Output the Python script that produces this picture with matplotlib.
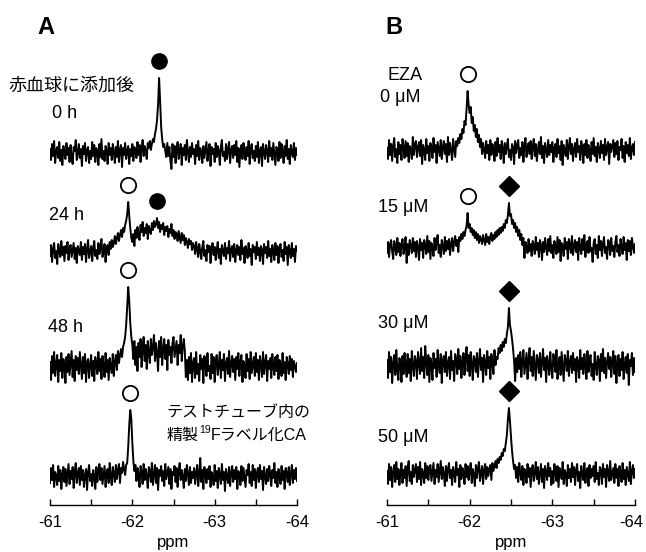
import numpy as np
import matplotlib
matplotlib.use('Agg')
import matplotlib.pyplot as plt
from matplotlib.ticker import MultipleLocator
from matplotlib.transforms import ScaledTranslation

plt.rcParams['font.family'] = ['Liberation Sans', 'Noto Sans CJK JP']

# chemical shift grid: -61 .. -64 ppm, 0.0125 ppm step (241 points)
ppm = np.linspace(-61.0, -64.0, 241)

# panel A: 19F spectra after adding to red blood cells (intensity)
a_0h = [4, -7, 9, -3, 12, -10, 2, 6, -5, 11, -8, 3, -12, 7, 1, -6, 10, -2, 5, -9,
        8, -4, -11, 6, 2, 13, -7, 0, 9, -5, 4, -13, 7, -1, 10, -8, 3, 6, -10, 2,
        -6, 11, -3, 8, -9, 5, 1, -12, 9, -4, 14, -6, 2, -8, 7, 3, -11, 10, -2, 5,
        -7, 9, 1, -10, 6, -4, 12, -9, 3, 8, -14, 5, -2, 10, -6, 2, 7, -11, 4, -3,
        9, -8, 6, 1, -5, 11, -2, 8, -9, 4, 13, -3, 7, 2, -6, 10, 5, 12, 3, 9,
        14, 11, 19, 24, 33, 48, 75, 52, 26, 14, 6, 9, 2, -4, 10, -3, 6, -8, -16, 9,
        -4, 7, -10, 3, 11, -6, 2, 9, -12, 5, -2, 8, -7, 13, 1, -9, 6, -4, 10, -1,
        4, -11, 8, -3, 12, -7, 5, 1, -10, 7, -5, 3, 11, -8, 2, 9, -13, 6, -1, 4,
        -9, 10, -4, 7, 2, -12, 6, 13, -3, 1, -8, 9, -6, 4, 11, -10, 3, 7, -5, 8,
        -2, 12, -9, 5, -14, 3, 8, -6, 10, 1, -7, 6, -3, 12, -11, 4, 9, -5, 2, -8,
        7, -4, 11, -10, 3, 6, -13, 9, 1, -6, 8, 2, -9, 12, -3, 5, -7, 10, -1, -12,
        6, 3, -8, 11, -5, 9, 2, -10, 7, -3, 13, -6, 4, -11, 8, 1, -4, 10, -7, 5,
        -2]
a_24h = [-4, 7, -10, 3, 9, -6, 1, -12, 8, 2, -5, 11, -3, 5, -9, 6, -1, 10, -8, 3,
         7, -5, 2, 9, -7, 4, -11, 6, 1, -3, 10, -8, 5, -2, 8, -10, 3, 12, -6, 0,
         6, -9, 4, 11, -4, 2, -7, 9, -2, 5, 13, -5, 1, 8, -10, 4, 7, -3, 10, 3,
         12, 5, 9, 16, 8, 14, 19, 11, 17, 22, 15, 24, 20, 27, 31, 38, 50, 36, 24, 14,
         10, 18, 6, 22, 14, 25, 17, 12, 27, 20, 30, 16, 24, 19, 28, 13, 26, 21, 18, 29,
         22, 31, 25, 28, 34, 24, 30, 20, 27, 23, 29, 17, 25, 21, 26, 15, 23, 19, 28, 16,
         22, 13, 20, 18, 11, 21, 15, 9, 19, 12, 17, 7, 14, 10, 4, 13, 8, 11, 2, 9,
         6, -2, 10, 3, -5, 8, 1, -7, 5, 11, -4, 2, -9, 7, 0, 6, -11, 4, 9, -3,
         5, -8, 2, 10, -6, 3, -12, 7, 1, -4, 9, -7, 4, -1, 11, -9, 3, 6, -5, 8,
         -10, 2, 7, -3, 5, -8, 12, -2, 4, -11, 6, 1, -6, 9, -4, 3, -13, 7, 0, 5,
         -7, 10, -3, 4, -9, 6, 2, -12, 8, -1, 5, -6, 11, -4, 3, -10, 7, 1, -8, 9,
         -3, 6, -11, 4, 8, -5, 2, -9, 10, -2, 5, -13, 7, 1, -6, 9, -4, 3, -10, 6,
         1]
a_48h = [5, -13, 11, -6, 15, -9, 3, 12, -15, 7, -4, 14, -11, 8, 2, -16, 10, -5, 13, -8,
         4, 16, -10, 7, -14, 11, -3, 9, -7, 15, 1, -12, 10, -6, 13, -15, 5, 8, -11, 2,
         12, -9, 6, -14, 10, 3, -7, 15, -4, 8, -12, 11, 2, -10, 14, -5, 7, -13, 9, 1,
         -6, 13, -9, 5, 12, -3, 16, 4, 12, 18, 10, 20, 24, 30, 42, 60, 80, 66, 44, 30,
         22, 8, 26, 2, 20, -4, 24, 10, 28, 0, 18, 30, 6, 22, -2, 26, 14, 4, 28, 12,
         20, 32, 6, 24, 14, -4, 26, 10, 30, 2, 18, 28, 8, 22, -3, 27, 12, 20, 4, 24,
         30, 10, 18, 26, 2, 22, 14, 32, 6, 20, 28, 16, -10, 7, -13, 10, -6, 14, -15, 4,
         9, -11, 15, -7, 3, -14, 12, -2, 8, -16, 11, 5, -9, 14, -4, 1, -12, 13, -6, 10,
         -15, 6, 12, -8, 2, 15, -11, 7, -3, 13, -14, 4, 9, -7, 16, -10, 3, 11, -5, 8,
         -13, 10, -2, 14, -9, 5, 12, -15, 6, 1, -11, 13, -4, 8, -12, 15, -6, 2, 10, -9,
         14, -5, 7, -13, 11, 3, -10, 15, -7, 4, 12, -14, 6, -2, 9, -11, 13, 0, -8, 10,
         -4, 12, -12, 7, 2, -9, 14, -6, 5, -13, 10, 3, -7, 11, -3, 8, -10, 6, 1, -5,
         4]
a_pure = [-6, 9, -3, 12, -10, 5, 1, -8, 11, -4, 7, -12, 3, 10, -5, 8, -9, 2, 13, -7,
          6, -2, 10, -11, 4, 14, -6, 3, 9, -8, 11, -3, 7, -10, 2, 8, -13, 5, 12, -4,
          3, -9, 7, 1, -12, 10, -5, 6, 13, -3, 9, -7, 2, 11, -10, 4, 8, -6, 14, 1,
          -8, 10, 3, -5, 12, -2, 7, 13, -6, 9, 4, 15, 8, 2, 12, 14, 30, 52, 67, 58,
          34, 16, 6, 12, -4, 9, 2, -10, 11, 5, -7, 13, -3, 8, 1, -11, 10, 6, -5, 14,
          -8, 3, 12, -6, 9, -13, 7, 1, 11, -4, 6, -9, 13, -2, 4, 10, -7, 8, -12, 5,
          2, 11, -5, 9, -10, 6, 14, -3, 7, 1, -11, 8, -4, 12, 3, -8, 10, -6, 5, -1,
          9, -7, 4, 12, -9, 2, 19, -5, 7, -12, 10, 3, -6, 8, -2, 11, -10, 5, 1, -8,
          12, -4, 6, -11, 9, 2, -7, 13, -3, 5, -14, 8, 1, -6, 10, -9, 4, 11, -5, 7,
          -2, 10, -12, 6, 3, -8, 11, -4, 9, -1, -10, 7, 2, 13, -6, 5, -9, 12, -3, 8,
          -11, 4, 9, -5, 12, -2, 6, -13, 10, 1, -7, 8, -4, 11, 3, -9, 7, -1, 14, -6,
          5, -10, 8, 2, -7, 11, -3, 6, -12, 9, 4, -5, 10, -8, 3, 12, -6, 7, -2, 9,
          -4]

# panel B: EZA titration
b_0 = [3, -8, 11, -4, 7, -10, 5, 13, -6, 2, -12, 9, -3, 6, -9, 12, 4, -7, 10, -5,
       8, -11, 5, 2, -8, 14, -4, 7, 10, -6, 3, 9, -5, 11, -13, 6, 1, -9, 12, -2,
       5, -10, 8, 3, -7, 13, -1, 6, -12, 9, 2, -5, 11, -8, 4, 10, -3, 7, -11, 14,
       -4, 8, 1, -9, 12, 3, -6, 10, 5, 13, 8, 17, 12, 22, 18, 30, 26, 42, 60, 46,
       38, 44, 28, 34, 20, 26, 14, 22, 9, 16, 4, 12, -3, 8, 1, -7, 10, -2, 6, -9,
       11, -4, 7, 2, -10, 9, -5, 13, -1, 6, -8, 10, 3, -12, 8, -3, 5, 12, -6, 1,
       -9, 7, 4, -13, 10, -2, 6, 11, -7, 3, -4, 9, -11, 5, 13, -6, 2, 8, -3, 10,
       -8, 4, 12, -5, 7, -10, 1, 9, -3, 14, -7, 5, -12, 8, 2, -6, 11, -4, 6, -1,
       9, -11, 3, 7, -6, 12, -2, 5, -9, 10, -14, 6, 1, -5, 11, -8, 4, 13, -3, 7,
       -10, 2, 8, -6, 12, -1, 5, -9, 10, 3, -12, 7, -4, 11, -7, 6, 1, -10, 9, -3,
       13, -5, 4, -11, 8, 2, -7, 10, -2, 6, -9, 12, -4, 3, 9, -13, 7, -1, 5, 11,
       -6, 8, -3, 10, -9, 4, 1, 12, -7, 5, -11, 9, -2, 6, -5, 13, -8, 3, 7, -4,
       9]
b_15 = [-5, 6, -9, 4, 8, -3, -11, 7, 2, -7, 10, -4, 5, -8, 3, 9, -6, 1, 11, -15,
        4, -7, 8, 2, -5, 10, -3, 6, -9, 7, 1, -12, 9, -2, 5, -10, 8, 3, -6, 12,
        -4, 7, -11, 5, 1, -8, 10, -2, 6, 13, -5, 3, -9, 8, 2, -6, 11, -3, 7, -1,
        9, -7, 4, 10, -3, 6, 12, 2, 8, -4, 11, 7, 14, 9, 16, 12, 18, 22, 35, 20,
        24, 16, 20, 13, 18, 10, 16, 8, 14, 5, 12, 9, 4, 13, 8, 3, 14, 6, 11, 4,
        12, 15, 7, 13, 9, 16, 11, 18, 13, 20, 15, 21, 17, 24, 20, 28, 25, 33, 45, 32,
        34, 24, 28, 20, 25, 16, 21, 12, 18, 8, 14, 3, 10, -10, 6, 1, -5, 9, -3, 4,
        -8, 7, 2, -6, 11, -2, 5, -9, 8, 3, -12, 6, -4, 10, 1, -7, 9, -3, 12, -5,
        3, -10, 7, 1, -6, 11, -4, 8, -13, 5, 2, -8, 10, -1, 6, -11, 9, 4, -5, 12,
        -7, 2, 8, -4, 6, -12, 10, 1, -6, 9, -2, 13, -9, 4, 7, -5, 11, -3, 0, -14,
        5, 9, -6, 3, -10, 12, -2, 7, -8, 4, 11, -5, 1, -11, 8, 6, -7, 10, -3, 2,
        -9, 6, 12, -4, 3, -8, 9, 1, -6, 11, -2, 5, -12, 8, -3, 7, -7, 10, 2, -5,
        4]
b_30 = [7, -11, 15, -5, 10, -16, 4, 12, -8, 17, -3, -13, 9, 5, -15, 11, -7, 14, 3, -10,
        13, -6, 8, -14, 16, 2, -9, 11, 6, -12, 15, 4, -7, 19, -4, 10, -11, 21, 5, -8,
        12, -15, 9, 3, -13, 14, -1, 8, -10, 17, 2, -6, 13, -16, 7, 11, -5, 15, -9, 4,
        10, -12, 16, -3, 6, -14, 13, 8, -7, 18, -2, 11, -11, 5, 14, -8, 9, 20, -4, 12,
        -9, 15, 3, -13, 11, 7, -5, 14, -10, 6, 18, -3, 9, -15, 12, 4, -8, 16, -1, 10,
        -12, 13, 5, -7, 17, 2, 10, 8, 19, 14, 22, 16, 25, 20, 28, 24, 33, 40, 59, 42,
        36, 28, 18, 6, -14, 9, -5, 12, -2, 15, -10, 6, 17, -7, 3, 14, -12, 8, 19, -4,
        10, -9, 16, 2, -13, 12, 7, -6, 14, -10, 5, 18, -3, 9, -15, 11, 4, -8, 15, -1,
        -11, 13, 6, -5, 17, -12, 3, 10, -8, 15, 1, -14, 12, 7, -4, 16, -9, 5, 11, -6,
        14, -3, 8, -15, 10, 4, -11, 17, -2, 9, -7, 13, 2, -12, 16, -5, 6, 12, -9, 3,
        -13, 15, 1, -8, 11, 7, -14, 13, -4, 18, -6, 9, -11, 5, 14, -2, 10, -10, 6, 16,
        -7, 11, -16, 4, 12, -9, 8, -3, 15, -12, 2, 10, -6, 13, -18, 7, 1, 14, -8, 9,
        -5]
b_50 = [4, -9, 11, -5, 8, -12, 3, 10, -7, 13, -4, 6, -10, 2, 12, -8, 5, -3, 9, -11,
        7, 14, -6, 3, -9, 10, -2, 5, 11, -7, 8, -4, 13, -10, 6, 2, -8, 12, -3, 9,
        -5, 7, 10, -6, 3, 12, -9, 5, -2, 11, -7, 4, 14, -4, 8, 1, -11, 9, -6, 6,
        12, -3, 5, -10, 8, 2, -7, 13, 0, 6, -12, 10, -4, 7, 3, -9, 11, -2, 9, -5,
        4, 12, -8, 6, 1, -11, 10, -3, 7, 13, -6, 2, 9, -9, 5, 11, -4, 8, -1, 6,
        10, -5, 12, 4, 9, 14, 7, 16, 12, 18, 15, 22, 19, 26, 24, 32, 40, 56, 67, 54,
        38, 24, 14, 6, 10, -3, 8, -7, 12, 2, -5, 9, -10, 6, 3, -8, 11, -2, 7, -12,
        5, 10, -6, 2, 13, -4, 8, -9, 1, 11, -7, 6, -13, 9, 3, -5, 12, -1, 7, -10,
        4, -8, 11, 2, -6, 9, -12, 7, 3, -4, 13, -9, 5, 1, -11, 10, -3, 6, -7, 12,
        -2, 8, -10, 5, 11, -6, 3, -13, 9, 1, -5, 12, -8, 4, 7, -11, 10, -3, 6, -1,
        9, -7, 13, -4, 2, -10, 8, 5, -9, 11, -2, 6, -12, 10, 3, -6, 14, -5, 1, 7,
        -8, 11, -3, 6, -11, 9, 2, -7, 12, -4, 5, -10, 8, 1, -6, 13, -9, 4, 10, -3,
        6]

# peak assignments (ppm, symbol)
a_peaks = [[(-62.325, 'filled')],
           [(-61.95, 'open'), (-62.3, 'filled')],
           [(-61.95, 'open')],
           [(-61.975, 'open')]]
b_peaks = [[(-61.975, 'open')],
           [(-61.975, 'open'), (-62.475, 'diamond')],
           [(-62.475, 'diamond')],
           [(-62.475, 'diamond')]]

a_labels = ['0 h', '24 h', '48 h']
b_labels = ['0 μM', '15 μM', '30 μM', '50 μM']
tick_vals = [-61, -62, -63, -64]

# vertical stacking (px above axis line)
a_offsets = [352, 253, 138, 28]
b_offsets = [354, 257, 138, 30]

mstyle = {
    'filled': dict(marker='o', ms=11, mfc='k', mec='k'),
    'open': dict(marker='o', ms=11, mfc='white', mec='k', mew=1.3),
    'diamond': dict(marker='D', ms=10, mfc='k', mec='k'),
}

for t in a_0h, a_24h, a_48h, a_pure, b_0, b_15, b_30, b_50:
    assert len(t) == len(ppm), len(t)


def draw_panel(ax, traces, offsets, peaks):
    for y, off, pk in zip(traces, offsets, peaks):
        y = np.array(y)
        ax.plot(ppm, y + off, color='k', lw=1.4)
        for p, kind in pk:
            near = np.abs(ppm - p) <= 0.05
            top = y[near].max() + off + 17
            ax.plot(p, top, ls='none', clip_on=False, **mstyle[kind])
    ax.set_xlim(-61, -64)
    ax.set_ylim(0, 465)
    for s in ['left', 'top', 'right']:
        ax.spines[s].set_visible(False)
    ax.spines['bottom'].set_linewidth(1.0)
    ax.set_yticks([])
    ax.xaxis.set_minor_locator(MultipleLocator(0.5))
    ax.tick_params(axis='x', which='both', direction='in', length=4, width=1)
    ax.tick_params(axis='x', which='major', labelsize=12, pad=7)
    ax.set_xticks(tick_vals)
    ax.set_xticklabels(['%d' % v for v in tick_vals])
    ax.set_xlabel('ppm', fontsize=12, labelpad=4)


fig = plt.figure(figsize=(6.46, 5.52), dpi=100)
ax_a = fig.add_axes([50 / 646, 47 / 552, 247 / 646, 465 / 552])
ax_b = fig.add_axes([387 / 646, 47 / 552, 248 / 646, 465 / 552])

draw_panel(ax_a, [a_0h, a_24h, a_48h, a_pure], a_offsets, a_peaks)
draw_panel(ax_b, [b_0, b_15, b_30, b_50], b_offsets, b_peaks)

# last label of B sits a little left of its tick, as in the original
lbl = ax_b.get_xticklabels()[-1]
lbl.set_transform(lbl.get_transform() + ScaledTranslation(-4 / 100, 0, fig.dpi_scale_trans))

fs = 13
ax_a.text(-60.49, 419, '赤血球に添加後', fontsize=13, va='center')
ax_a.text(-61.024, 391, a_labels[0], fontsize=fs, va='center')
ax_a.text(-60.99, 290, a_labels[1], fontsize=fs, va='center')
ax_a.text(-60.976, 178, a_labels[2], fontsize=fs, va='center')
ax_a.text(-62.42, 92, 'テストチューブ内の', fontsize=11.5, va='center')
t1 = ax_a.text(-62.42, 70, '精製', fontsize=11.5, va='center')
t2 = ax_a.annotate('19', xy=(1, 0.5), xycoords=t1, xytext=(0, 3.5),
                   textcoords='offset points', fontsize=7.5, va='center')
ax_a.annotate('Fラベル化CA', xy=(1, 0.5), xycoords=(t2, t1), xytext=(0, 0),
              textcoords='offset points', fontsize=11.5, va='center')

ax_b.text(-61.01, 430, 'EZA', fontsize=fs, va='center')
ax_b.text(-60.915, 407, b_labels[0], fontsize=fs, va='center')
ax_b.text(-60.89, 298, b_labels[1], fontsize=fs, va='center')
ax_b.text(-60.89, 182, b_labels[2], fontsize=fs, va='center')
ax_b.text(-60.89, 67, b_labels[3], fontsize=fs, va='center')

fig.text(46 / 646, 1 - 27 / 552, 'A', fontsize=17, fontweight='bold', ha='center', va='center')
fig.text(394 / 646, 1 - 27 / 552, 'B', fontsize=17, fontweight='bold', ha='center', va='center')

fig.savefig('out.png', dpi=100)
